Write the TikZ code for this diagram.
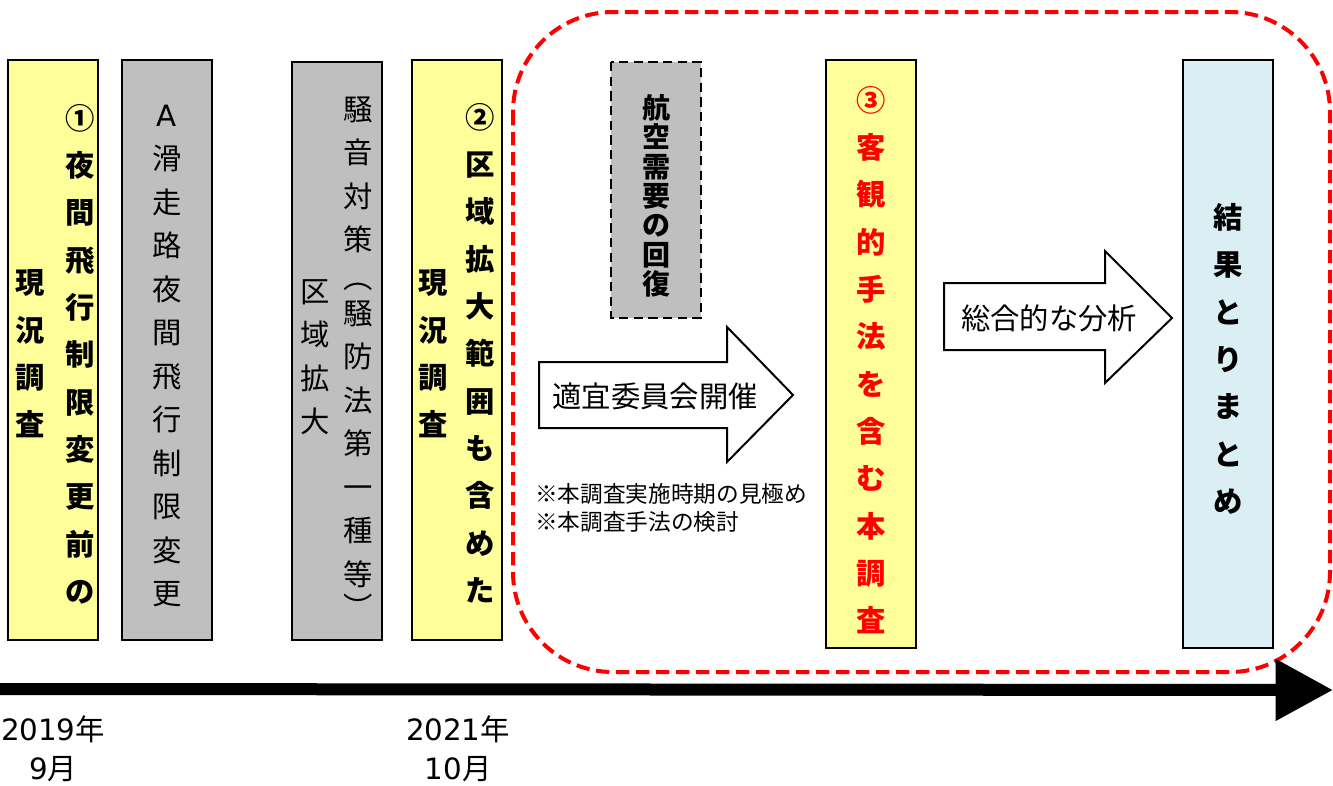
\documentclass[tikz,border=0pt]{standalone}
\usepackage{fontspec}
\setmainfont{Noto Sans CJK JP}
\newfontfamily\digfont{DejaVu Sans}
\usetikzlibrary{arrows.meta}
\definecolor{yfill}{HTML}{FFFF99}
\definecolor{gfill}{HTML}{BFBFBF}
\definecolor{bfill}{HTML}{DAEEF3}

\begin{document}
\begin{tikzpicture}[
  x=0.75pt, y=-0.75pt,
  ybox/.style={draw, line width=1.2pt, fill=yfill},
  gbox/.style={draw, line width=1.2pt, fill=gfill},
  vbold/.style={align=center, inner sep=0pt, font=\fontsize{22}{35.5}\selectfont\bfseries},
  vthin/.style={align=center, inner sep=0pt, font=\fontsize{22}{32.6}\selectfont},
  flat/.style={inner sep=0pt, font=\fontsize{22}{29}\selectfont},
  barrow/.style={draw, line width=1.5pt, fill=white},
]
\useasboundingbox (0,0) rectangle (1333,785);

% dashed frame
\draw[red, line width=3pt, dash pattern=on 10pt off 5pt, rounded corners=75pt]
  (513,12) rectangle (1330,672);

% boxes
\draw[ybox] (8,60) rectangle (98,640);
\draw[gbox] (122,60) rectangle (212,640);
\draw[gbox] (292,62) rectangle (382,640);
\draw[ybox] (412,60) rectangle (502,640);
\draw[draw, line width=1pt, fill=gfill, dash pattern=on 7pt off 4pt] (611,62) rectangle (701,318);
\draw[ybox] (826,60) rectangle (916,648);
\draw[draw, line width=1.2pt, fill=bfill] (1183,60) rectangle (1273,648);

\node[vbold] (pre1) at (80,354) {①\\夜\\間\\飛\\行\\制\\限\\変\\更\\前\\の};
\node[vbold] (cur1) at (30,354) {現\\況\\調\\査};
\node[vthin] (runA) at (167,356) {{\digfont A}\\滑\\走\\路\\夜\\間\\飛\\行\\制\\限\\変\\更};
\node[vthin] (noiseA) at (358,175) {騒\\音\\対\\策};
\node[vthin] (lpar) at (358,287) {︵};
\node[vthin] (noiseB) at (358,444) {騒\\防\\法\\第\\一\\種\\等};
\node[vthin] (rpar) at (358,606) {︶};
\node[vthin] (area) at (315,357) {区\\域\\拡\\大};
\node[vbold] (pre2) at (480,353) {②\\区\\域\\拡\\大\\範\\囲\\も\\含\\め\\た};
\node[vbold] (cur2) at (433,354) {現\\況\\調\\査};
\node[vbold, font=\fontsize{21}{22}\selectfont\bfseries] (demand) at (656,196) {航\\空\\需\\要\\の\\回\\復};
\node[vbold, text=red] (main) at (871,360) {③\\客\\観\\的\\手\\法\\を\\含\\む\\本\\調\\査};
\node[vbold] (sum) at (1228,359) {結\\果\\と\\り\\ま\\と\\め};

% block arrows
\draw[barrow] (539,362) -- (727,362) -- (727,327) -- (793,395) -- (727,462)
  -- (727,428) -- (539,428) -- cycle;
\node[flat] (meet) at (655,396) {適宜委員会開催};
\draw[barrow] (944,283) -- (1105,283) -- (1105,251) -- (1172,318) -- (1105,383)
  -- (1105,350) -- (944,350) -- cycle;
\node[flat] (anal) at (1049,318) {総合的な分析};

\node[anchor=north west, inner sep=0pt, align=left, font=\fontsize{17}{21}\selectfont]
  (note) at (535,483) {※本調査実施時期の見極め\\※本調査手法の検討};

% time line
\coordinate (t0) at (0,689);
\coordinate (t1) at (1333,690);
\draw[line width=9pt, -{Triangle[length=43pt, width=44pt]}] (t0) -- (t1);

\node[flat, align=center] (d2019) at (53,749) {{\digfont 2019}年\\{\digfont 9}月};
\node[flat, align=center] (d2021) at (458,749) {{\digfont 2021}年\\{\digfont 10}月};

\end{tikzpicture}
\end{document}
